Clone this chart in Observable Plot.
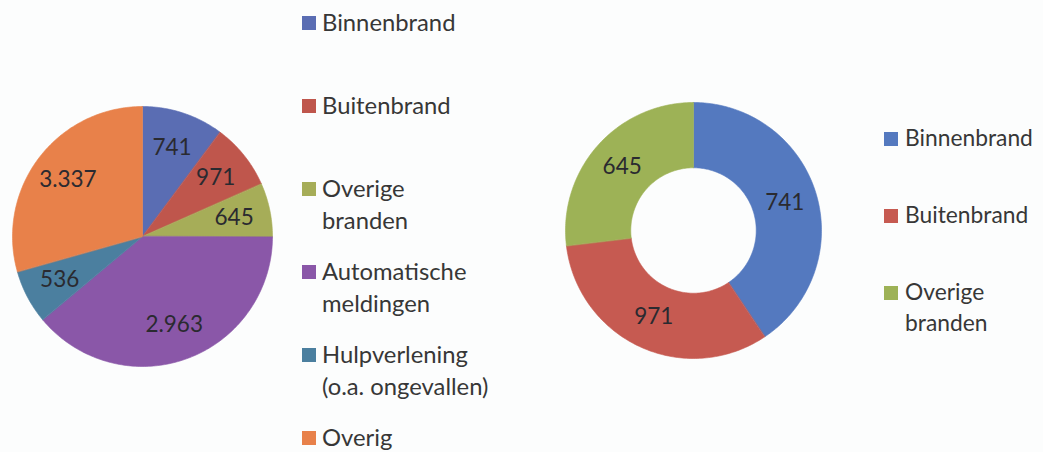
<!DOCTYPE html>
<html>
<head>
<meta charset="utf-8">
<script src="https://cdn.jsdelivr.net/npm/d3@7"></script>
<script src="https://cdn.jsdelivr.net/npm/@observablehq/plot@0.6"></script>
<style>
  html, body { margin: 0; padding: 0; background: #fcfdfd; }
  #root { position: relative; width: 1043px; height: 452px; overflow: hidden;
          font-family: Lato, "Open Sans", sans-serif; color: #373737; }
  .chart { position: absolute; }
  .legend { position: absolute; }
  .item { display: flex; align-items: flex-start; }
  .sw { width: 14px; height: 14px; flex: none; }
</style>
</head>
<body>
<div id="root"></div>
<script>
// ---------- data ----------
// Left pie: all incident types
const pieCategories = ["Binnenbrand", "Buitenbrand", "Overige branden",
  "Automatische meldingen", "Hulpverlening (o.a. ongevallen)", "Overig"];
const pieLegendLines = [["Binnenbrand"], ["Buitenbrand"], ["Overige", "branden"],
  ["Automatische", "meldingen"], ["Hulpverlening", "(o.a. ongevallen)"], ["Overig"]];
const pieValues = [741, 971, 645, 2963, 536, 3337];          // data labels
const pieShares = [10.2, 8.2, 6.7, 38.9, 6.7, 29.4];          // % of circle as drawn
const pieColors = ["#5a6db3", "#bf564c", "#a6ad58", "#8a57a8", "#4b7f9f", "#e8814a"];

// Right doughnut: fires only
const donutCategories = ["Binnenbrand", "Buitenbrand", "Overige branden"];
const donutLegendLines = [["Binnenbrand"], ["Buitenbrand"], ["Overige", "branden"]];
const donutValues = [741, 971, 645];                          // data labels
const donutShares = [40.6, 32.5, 26.9];                       // % of ring as drawn
const donutColors = ["#5479bf", "#c65a51", "#9db256"];

// ---------- helpers ----------
const nl = d3.formatLocale({decimal: ",", thousands: ".", grouping: [3], currency: ["€", ""]});
const fmt = nl.format(",d");

function geometry(cats, shares, values, inner, labelR) {
  const total = d3.sum(shares);
  let acc = 0;
  const pts = [], labels = [];
  cats.forEach((c, i) => {
    const a0 = acc / total * 2 * Math.PI;
    acc += shares[i];
    const a1 = acc / total * 2 * Math.PI;
    const n = Math.max(2, Math.ceil((a1 - a0) / (Math.PI / 180)));
    const arc = d3.range(n + 1).map(k => a0 + (a1 - a0) * k / n);
    arc.forEach(a => pts.push({cat: c, x: Math.sin(a), y: Math.cos(a)}));
    if (inner > 0) arc.slice().reverse().forEach(a => pts.push({cat: c, x: inner * Math.sin(a), y: inner * Math.cos(a)}));
    else pts.push({cat: c, x: 0, y: 0});
    const m = (a0 + a1) / 2;
    labels.push({cat: c, text: fmt(values[i]), x: labelR * Math.sin(m), y: labelR * Math.cos(m)});
  });
  return {pts, labels};
}

function pieChart({cats, shares, values, colors, inner, labelR, size, radius}) {
  const {pts, labels} = geometry(cats, shares, values, inner, labelR);
  const d = size / 2 / radius;
  return Plot.plot({
    width: size, height: size, margin: 0,
    x: {domain: [-d, d], axis: null},
    y: {domain: [-d, d], axis: null},
    color: {domain: cats, range: colors},
    style: {background: "transparent", fontFamily: "Lato, 'Open Sans', sans-serif"},
    marks: [
      Plot.line(pts, {x: "x", y: "y", z: "cat", fill: "cat", stroke: "cat", strokeWidth: 0.6, curve: "linear-closed"}),
      Plot.text(labels, {x: "x", y: "y", text: "text", fontSize: 22.5, fill: "#2a2a30"})
    ]
  });
}

function legend(lines, colors, {left, top, slot, lineH, fontSize, gap}) {
  const el = document.createElement("div");
  el.className = "legend";
  el.style.left = left + "px";
  el.style.top = top + "px";
  el.style.fontSize = fontSize + "px";
  lines.forEach((ls, i) => {
    const it = document.createElement("div");
    it.className = "item";
    it.style.height = slot + "px";
    const sw = document.createElement("div");
    sw.className = "sw";
    sw.style.background = colors[i];
    sw.style.marginTop = (lineH / 2 - 6) + "px";
    sw.style.marginRight = gap + "px";
    it.appendChild(sw);
    const tx = document.createElement("div");
    ls.forEach(l => {
      const ln = document.createElement("div");
      ln.textContent = l;
      ln.style.lineHeight = lineH + "px";
      ln.style.whiteSpace = "nowrap";
      tx.appendChild(ln);
    });
    it.appendChild(tx);
    el.appendChild(it);
  });
  return el;
}

// ---------- layout ----------
const root = document.getElementById("root");

const left = pieChart({cats: pieCategories, shares: pieShares, values: pieValues, colors: pieColors,
  inner: 0, labelR: 0.72, size: 270, radius: 130});
left.classList.add("chart");
left.style.left = "7px"; left.style.top = "101px";
root.appendChild(left);

root.appendChild(legend(pieLegendLines, pieColors, {left: 302, top: 6, slot: 83, lineH: 32, fontSize: 23.8, gap: 6}));

const right = pieChart({cats: donutCategories, shares: donutShares, values: donutValues, colors: donutColors,
  inner: 0.49, labelR: 0.745, size: 270, radius: 128});
right.classList.add("chart");
right.style.left = "558px"; right.style.top = "95px";
root.appendChild(right);

root.appendChild(legend(donutLegendLines, donutColors, {left: 884, top: 122, slot: 77, lineH: 31, fontSize: 22.8, gap: 7}));
</script>
</body>
</html>
